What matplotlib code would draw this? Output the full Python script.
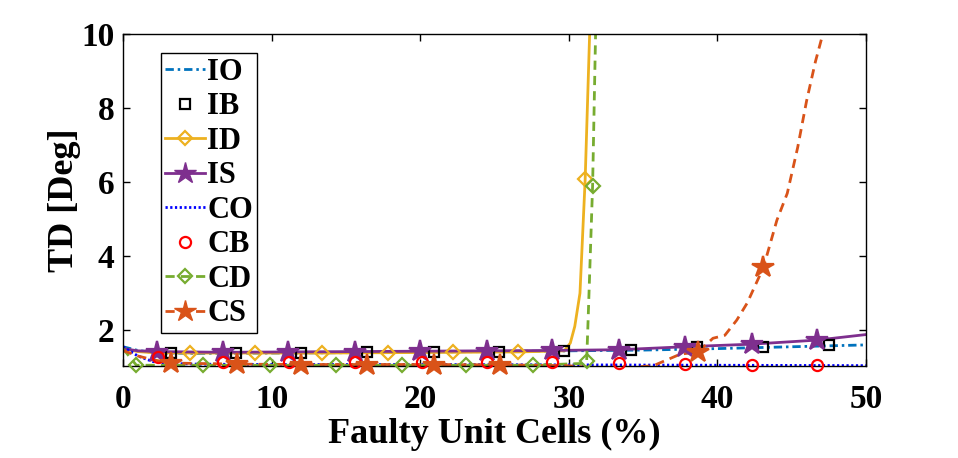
import matplotlib
matplotlib.use("Agg")
import matplotlib.pyplot as plt
from matplotlib.lines import Line2D
import numpy as np

plt.rcParams['font.family'] = ['Liberation Serif', 'DejaVu Serif']
plt.rcParams['font.weight'] = 'bold'

# ---- data (x = faulty unit cells %, y = TD in deg) ----
io_x = [0, 1, 2, 3, 5, 10, 15, 20, 25, 30, 35, 40, 45, 50]
io_y = [1.55, 1.45, 1.40, 1.38, 1.37, 1.38, 1.39, 1.41, 1.42, 1.44, 1.46, 1.50, 1.55, 1.60]

ib_x = [3.2, 7.6, 12.0, 16.4, 20.9, 25.3, 29.7, 34.2, 38.6, 43.1, 47.5]
ib_y = [1.37, 1.38, 1.39, 1.40, 1.41, 1.42, 1.44, 1.46, 1.55, 1.54, 1.60]

id_x = [0, 1, 2, 4.5, 8.9, 13.4, 17.8, 22.2, 26.6, 29.7, 30.1, 30.4, 30.75, 31.1, 31.4, 31.6]
id_y = [1.50, 1.42, 1.39, 1.38, 1.38, 1.38, 1.39, 1.40, 1.41, 1.44, 1.65, 2.10, 3.00, 6.08, 10.0, 12.0]
id_mk = [3, 4, 5, 6, 7, 8, 13]

is_x = [0, 1, 2.3, 6.7, 11.1, 15.6, 20.0, 24.5, 28.9, 33.4, 37.8, 42.3, 46.7, 50]
is_y = [1.50, 1.44, 1.42, 1.40, 1.41, 1.42, 1.43, 1.44, 1.45, 1.47, 1.55, 1.62, 1.73, 1.88]
is_mk = list(range(2, 13))

co_x = [0, 1, 2, 3, 5, 10, 20, 30, 40, 50]
co_y = [1.55, 1.30, 1.15, 1.10, 1.08, 1.07, 1.07, 1.06, 1.05, 1.04]

cb_x = [2.35, 6.7, 11.2, 15.6, 20.1, 24.5, 28.9, 33.4, 37.8, 42.3, 46.7]
cb_y = [1.27, 1.15, 1.13, 1.13, 1.13, 1.13, 1.13, 1.12, 1.08, 1.06, 1.05]

cd_x = [0, 0.9, 5.4, 9.9, 14.3, 18.8, 23.1, 27.6, 31.0, 31.2, 31.3, 31.6, 31.8, 31.9]
cd_y = [1.50, 1.05, 1.05, 1.05, 1.05, 1.05, 1.05, 1.05, 1.10, 1.16, 2.30, 5.90, 10.0, 11.0]
cd_mk = [1, 2, 3, 4, 5, 6, 7, 9, 11]

cs_x = [0, 1, 2, 3.2, 7.7, 12.0, 16.4, 20.9, 25.4, 29.8, 33.0, 35.7, 37.5, 38.7, 39.7,
        40.5, 41.3, 42.0, 43.1, 44.0, 44.7, 45.4, 46.0, 46.6, 47.0, 47.3]
cs_y = [1.45, 1.30, 1.20, 1.11, 1.08, 1.07, 1.07, 1.07, 1.06, 1.04, 0.95, 1.04, 1.35, 1.41, 1.78,
        1.86, 2.27, 2.73, 3.70, 4.97, 5.70, 6.94, 8.20, 9.27, 9.87, 10.5]
cs_mk = [3, 4, 5, 6, 7, 8, 13, 18]

c_io = '#0072BD'
c_id = '#EDB120'
c_is = '#7E2F8E'
c_co = '#0000FF'
c_cb = '#FF0000'
c_cd = '#77AC30'
c_cs = '#D95319'

fig = plt.figure(figsize=(9.58, 4.58), dpi=100)
ax = fig.add_axes([0.1284, 0.2009, 0.7756, 0.7242])

lw = 2.0
mew = 1.6
dash = (3.3, 2.2)
dashdot = (3.0, 1.4, 0.9, 1.4)
dot = (0.8, 0.9)
ms_star = 16
ms_dia = 7
ms_sq = 7
ms_circ = 8


def markers(xs, ys, idx, **kw):
    mx = [xs[i] for i in idx]
    my = [ys[i] for i in idx]
    ax.plot(mx, my, linestyle='none', clip_on=False, zorder=4, markeredgewidth=mew, **kw)


# lines
ax.plot(io_x, io_y, color=c_io, lw=lw, dashes=dashdot)
ax.plot(id_x, id_y, '-', color=c_id, lw=lw)
ax.plot(is_x, is_y, '-', color=c_is, lw=lw)
ax.plot(co_x, co_y, color=c_co, lw=lw, dashes=dot)
ax.plot(cd_x, cd_y, color=c_cd, lw=lw, dashes=dash)
ax.plot(cs_x, cs_y, color=c_cs, lw=lw, dashes=dash)

# markers
markers(ib_x, ib_y, range(len(ib_x)), marker='s', ms=ms_sq, mfc='none', mec='black')
markers(id_x, id_y, id_mk, marker='D', ms=ms_dia, mfc='none', mec=c_id)
markers(is_x, is_y, is_mk, marker='*', ms=ms_star, mfc=c_is, mec=c_is)
markers(cb_x, cb_y, range(len(cb_x)), marker='o', ms=ms_circ, mfc='none', mec=c_cb)
markers(cd_x, cd_y, cd_mk, marker='D', ms=ms_dia, mfc='none', mec=c_cd)
markers(cs_x, cs_y, cs_mk, marker='*', ms=ms_star, mfc=c_cs, mec=c_cs)

handles = [
    Line2D([], [], color=c_io, lw=lw, dashes=dashdot),
    Line2D([], [], ls='none', marker='s', ms=ms_sq, mfc='none', mec='black', mew=mew),
    Line2D([], [], ls='-', color=c_id, lw=lw, marker='D', ms=ms_dia, mfc='none', mec=c_id, mew=mew),
    Line2D([], [], ls='-', color=c_is, lw=lw, marker='*', ms=ms_star, mfc=c_is, mec=c_is),
    Line2D([], [], color=c_co, lw=lw, dashes=dot),
    Line2D([], [], ls='none', marker='o', ms=ms_circ, mfc='none', mec=c_cb, mew=mew),
    Line2D([], [], color=c_cd, lw=lw, dashes=dash, marker='D', ms=ms_dia, mfc='none', mec=c_cd, mew=mew),
    Line2D([], [], color=c_cs, lw=lw, dashes=dash, marker='*', ms=ms_star, mfc=c_cs, mec=c_cs),
]
labels = ['IO', 'IB', 'ID', 'IS', 'CO', 'CB', 'CD', 'CS']

leg = ax.legend(handles, labels, loc='upper left', bbox_to_anchor=(0.051, 0.943),
                borderaxespad=0, fancybox=False, framealpha=1, edgecolor='black',
                prop={'family': 'Liberation Serif', 'weight': 'bold', 'size': 22},
                handlelength=1.3, handletextpad=0.06, labelspacing=0.18,
                borderpad=0.15)
leg.get_frame().set_linewidth(1.0)

ax.set_xlim(0, 50)
ax.set_ylim(1.03, 10)
ax.set_xticks([0, 10, 20, 30, 40, 50])
ax.set_yticks([2, 4, 6, 8, 10])
ax.tick_params(direction='in', top=True, right=True, length=5, width=1, labelsize=24)
ax.tick_params(axis='x', pad=13)
ax.tick_params(axis='y', pad=6)
for s in ax.spines.values():
    s.set_linewidth(1.0)

ax.set_xlabel('Faulty Unit Cells (%)', fontsize=26, fontweight='bold', labelpad=2)
ax.set_ylabel('TD [Deg]', fontsize=26, fontweight='bold', labelpad=0)

fig.savefig('out.png', dpi=100)
